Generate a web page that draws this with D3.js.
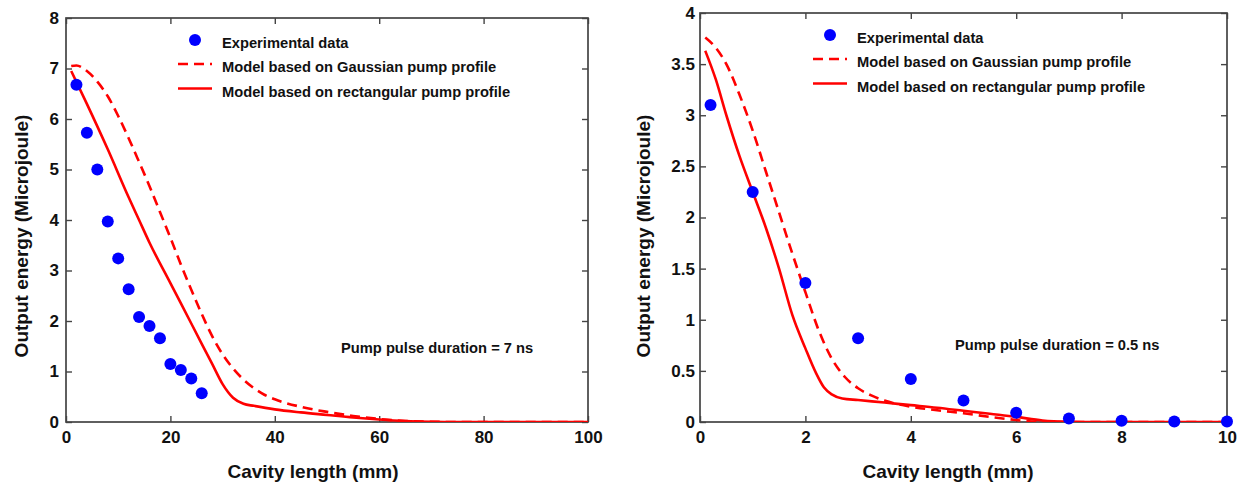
<!DOCTYPE html>
<html><head><meta charset="utf-8">
<script src="https://cdn.jsdelivr.net/npm/d3@7/dist/d3.min.js"></script>
<style>
body{margin:0;background:#fff;}
svg text{font-family:"Liberation Sans",Arial,sans-serif;font-weight:bold;fill:#111;}
</style></head>
<body><svg id="c" width="1242" height="487"></svg>
<script>
// ---- Left panel (7 ns) ----
const leftExpX = [2,4,6,8,10,12,14,16,18,20,22,24,26];
const leftExpY = [6.68,5.73,5.0,3.97,3.24,2.63,2.08,1.9,1.66,1.15,1.03,0.86,0.57];
const leftGaussX = [1,2,4,6,8,10,12,14,16,18,20,22,24,26,28,30,32,34,36,38,40,45,50,55,60,65,70,75,100];
const leftGaussY = [7.05,7.06,6.95,6.74,6.45,6.06,5.62,5.15,4.67,4.16,3.65,3.12,2.62,2.14,1.7,1.34,1.06,0.84,0.67,0.54,0.45,0.3,0.2,0.12,0.06,0.02,0.005,0,0];
const leftRectX = [1,4,8,12,14,16,20,24,28,30,32,34,36,40,45,50,55,60,65,70,75,100];
const leftRectY = [6.95,6.3,5.4,4.45,4.0,3.55,2.75,1.95,1.15,0.75,0.48,0.36,0.32,0.25,0.19,0.14,0.09,0.05,0.02,0.005,0,0];
const leftXTicks = [0,20,40,60,80,100];
const leftYTicks = [0,1,2,3,4,5,6,7,8];
// ---- Right panel (0.5 ns) ----
const rightExpX = [0.2,1,2,3,4,5,6,7,8,9,10];
const rightExpY = [3.1,2.25,1.36,0.82,0.42,0.21,0.09,0.035,0.012,0.005,0.005];
const rightGaussX = [0.1,0.3,0.5,0.75,1,1.25,1.5,1.75,2,2.25,2.5,2.75,3,3.25,3.5,4,4.5,5,5.5,6,6.3,7,10];
const rightGaussY = [3.76,3.66,3.5,3.2,2.85,2.45,2.05,1.65,1.27,0.9,0.62,0.44,0.33,0.26,0.21,0.15,0.115,0.085,0.05,0.02,0.005,0,0];
const rightRectX = [0.1,0.3,0.5,0.75,1,1.25,1.5,1.75,2,2.2,2.35,2.5,2.7,3,3.5,4,4.5,5,5.5,6,6.5,7,7.5,10];
const rightRectY = [3.63,3.35,3.0,2.6,2.25,1.9,1.5,1.05,0.72,0.48,0.34,0.27,0.23,0.215,0.19,0.165,0.14,0.11,0.08,0.05,0.015,0.003,0,0];
const rightXTicks = [0,2,4,6,8,10];
const rightYTicks = [0,0.5,1,1.5,2,2.5,3,3.5,4];
const legendLabels = ["Experimental data","Model based on Gaussian pump profile","Model based on rectangular pump profile"];
const xTitle = "Cavity length (mm)";
const yTitle = "Output energy (Microjoule)";

const svg = d3.select("#c");

function panel(o){
  const x = d3.scaleLinear().domain(o.xDom).range([o.l,o.r]);
  const y = d3.scaleLinear().domain(o.yDom).range([o.b,o.t]);
  const g = svg.append("g");
  const fmt = d => String(d);
  const ax = [
    [d3.axisBottom(x).tickValues(o.xTicks).tickFormat(fmt).tickSizeInner(-6).tickSizeOuter(0).tickPadding(9), `translate(0,${o.b})`],
    [d3.axisTop(x).tickValues(o.xTicks).tickFormat("").tickSizeInner(-6).tickSizeOuter(0), `translate(0,${o.t})`],
    [d3.axisLeft(y).tickValues(o.yTicks).tickFormat(fmt).tickSizeInner(-6).tickSizeOuter(0).tickPadding(o.ypad), `translate(${o.l},0)`],
    [d3.axisRight(y).tickValues(o.yTicks).tickFormat("").tickSizeInner(-6).tickSizeOuter(0), `translate(${o.r},0)`]
  ];
  ax.forEach(([a,tr])=>{
    const gg = g.append("g").attr("transform",tr).call(a);
    gg.select(".domain").remove();
    gg.selectAll("line").attr("stroke","#444").attr("stroke-width",1.4);
    gg.selectAll("text").style("font-size","17px").attr("fill","#111");
  });
  g.append("rect").attr("x",o.l).attr("y",o.t).attr("width",o.r-o.l).attr("height",o.b-o.t)
    .attr("fill","none").attr("stroke","#444").attr("stroke-width",1.7);

  const line = d3.line().x(d=>x(d[0])).y(d=>y(d[1])).curve(d3.curveMonotoneX);
  const clip = "clip"+o.id;
  g.append("clipPath").attr("id",clip).append("rect").attr("x",o.l).attr("y",o.t-2).attr("width",o.r-o.l).attr("height",o.b-o.t+2);
  const gauss = d3.zip(o.gX,o.gY), rect = d3.zip(o.rX,o.rY);
  g.append("path").datum(rect).attr("d",line).attr("fill","none").attr("stroke","#ff0000").attr("stroke-width",2.6).attr("clip-path",`url(#${clip})`);
  g.append("path").datum(gauss).attr("d",line).attr("fill","none").attr("stroke","#ff0000").attr("stroke-width",2.6).attr("stroke-dasharray","10,6").attr("clip-path",`url(#${clip})`);
  g.selectAll("circle.e").data(d3.zip(o.eX,o.eY)).join("circle").attr("class","e")
    .attr("cx",d=>x(d[0])).attr("cy",d=>y(d[1])).attr("r",6).attr("fill","#0000ff");

  // legend
  const L = o.leg;
  g.append("circle").attr("cx",L.x+17).attr("cy",L.y).attr("r",6).attr("fill","#0000ff");
  g.append("line").attr("x1",L.x).attr("x2",L.x+34).attr("y1",L.y+24).attr("y2",L.y+24).attr("stroke","#ff0000").attr("stroke-width",2.6).attr("stroke-dasharray","10,6");
  g.append("line").attr("x1",L.x).attr("x2",L.x+34).attr("y1",L.y+48.5).attr("y2",L.y+48.5).attr("stroke","#ff0000").attr("stroke-width",2.6);
  legendLabels.forEach((t,i)=>{
    g.append("text").attr("x",L.x+44).attr("y",L.y+2.5+i*24.5).attr("dy","0.35em").style("font-size","14.7px").text(t);
  });
  g.append("text").attr("x",o.ann[0]).attr("y",o.ann[1]).attr("dy","0.35em").style("font-size","14.7px").text(o.annText);
  // axis titles
  g.append("text").attr("x",o.xtx).attr("y",471).attr("dy","0.35em").attr("text-anchor","middle").style("font-size","19px").text(xTitle);
  g.append("text").attr("transform",`translate(${o.ytx},236) rotate(-90)`).attr("dy","0.35em").attr("text-anchor","middle").style("font-size","19px").text(yTitle);
}

panel({id:"L",l:66,r:588,t:18,b:422,xDom:[0,100],yDom:[0,8],xTicks:leftXTicks,yTicks:leftYTicks,ypad:7,
  eX:leftExpX,eY:leftExpY,gX:leftGaussX,gY:leftGaussY,rX:leftRectX,rY:leftRectY,
  leg:{x:178,y:40},ann:[341,347.5],annText:"Pump pulse duration = 7 ns",ytx:21,xtx:313});
panel({id:"R",l:700,r:1227,t:13,b:422,xDom:[0,10],yDom:[0,4],xTicks:rightXTicks,yTicks:rightYTicks,ypad:5,
  eX:rightExpX,eY:rightExpY,gX:rightGaussX,gY:rightGaussY,rX:rightRectX,rY:rightRectY,
  leg:{x:813,y:35},ann:[955,345],annText:"Pump pulse duration = 0.5 ns",ytx:643,xtx:948});
</script></body></html>
